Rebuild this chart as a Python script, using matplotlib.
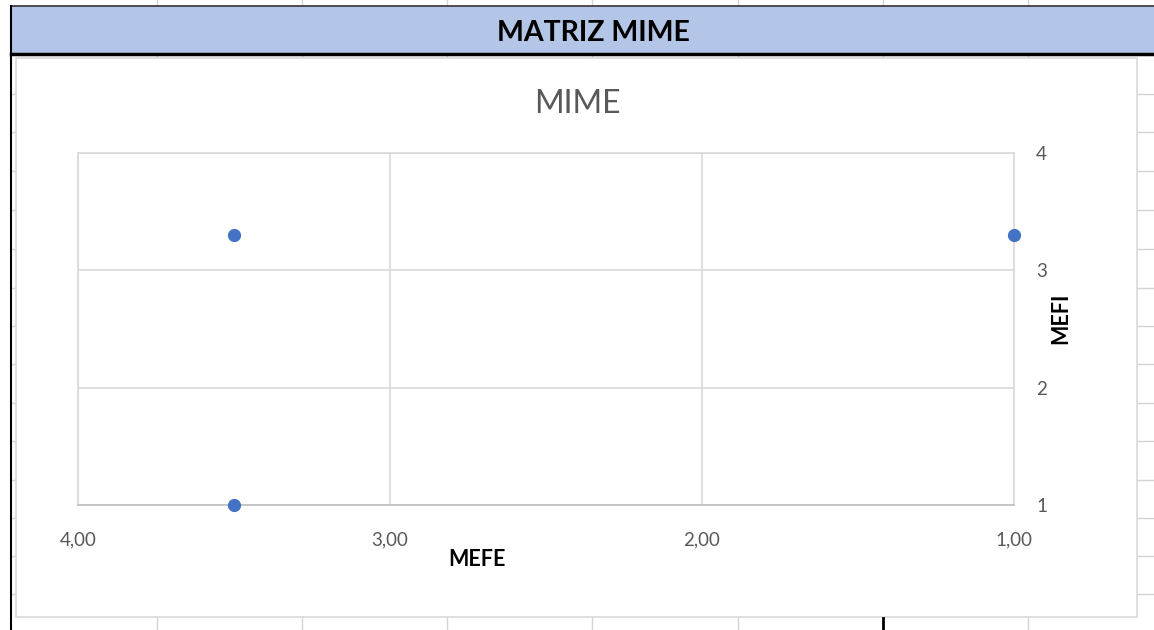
import matplotlib
matplotlib.use("Agg")
import matplotlib.pyplot as plt
from matplotlib.patches import Rectangle
from matplotlib.ticker import FuncFormatter

plt.rcParams['font.family'] = ['Lato', 'DejaVu Sans']

# data
mefe = [3.5, 1.0, 3.5]
mefi = [3.3, 3.3, 1.0]
x_ticks = [4, 3, 2, 1]
y_ticks = [1, 2, 3, 4]

W, H = 1154, 630
fig = plt.figure(figsize=(W / 100, H / 100), dpi=100)

# spreadsheet background, pixel coordinates
bg = fig.add_axes([0, 0, 1, 1])
bg.set_xlim(0, W)
bg.set_ylim(H, 0)
bg.axis('off')

grid_c = '#d4d4d4'
cols = [157, 302, 447, 592, 738, 883, 1028]
rows = [94, 132, 171, 210, 249, 288, 326, 364, 403, 441, 480, 518, 556, 594]
for c in cols:
    bg.plot([c, c], [0, H], color=grid_c, lw=1)
for r in rows:
    bg.plot([11, W], [r, r], color=grid_c, lw=1)

# header band
bg.add_patch(Rectangle((11, 6), W - 11, 48, facecolor='#b4c6e7', edgecolor='none', zorder=3))
bg.plot([11, W], [6, 6], color='#333333', lw=1.2, zorder=4)
bg.plot([11, W], [54, 54], color='black', lw=2.5, zorder=4)
bg.plot([11, 11], [6, H], color='black', lw=1.5, zorder=4)
bg.text(593, 33, 'MATRIZ MIME', ha='center', va='center', fontsize=20.5,
        fontweight='bold', color='black', zorder=5)

# chart area
bg.add_patch(Rectangle((16, 58), 1121, 559, facecolor='white', edgecolor='#d9d9d9', lw=1.2, zorder=3))
bg.plot([883, 883], [618, H], color='black', lw=2, zorder=4)

bg.text(577, 104, 'MIME', ha='center', va='center', fontsize=23, color='#595959', zorder=5)
bg.text(477, 560, 'MEFE', ha='center', va='center', fontsize=15.5, fontweight='bold', zorder=5)
bg.text(1061, 318, 'MEFI', ha='center', va='center', fontsize=15.5, fontweight='bold',
        rotation=90, zorder=5)

# plot area
x0, x1, y0, y1 = 78, 1014, 153, 505
ax = fig.add_axes([x0 / W, (H - y1) / H, (x1 - x0) / W, (y1 - y0) / H])
ax.set_facecolor('white')
ax.set_xlim(4, 1)
ax.set_ylim(1, 4)
ax.set_xticks(x_ticks)
ax.set_yticks(y_ticks)
ax.xaxis.set_major_formatter(FuncFormatter(lambda v, p: f'{v:.2f}'.replace('.', ',')))
ax.yaxis.tick_right()
ax.tick_params(axis='x', length=0, pad=19, labelsize=13.5, labelcolor='#595959')
ax.tick_params(axis='y', length=0, pad=16, labelsize=13.5, labelcolor='#595959')
ax.grid(True, color='#d9d9d9', lw=1.2)
for s in ax.spines.values():
    s.set_color('#d9d9d9')
    s.set_linewidth(1.2)
ax.spines['bottom'].set_color('#bfbfbf')

ax.plot(mefe, mefi, 'o', color='#4472c4', ms=8.5, clip_on=False, zorder=5)

fig.savefig('out.png', dpi=100)
